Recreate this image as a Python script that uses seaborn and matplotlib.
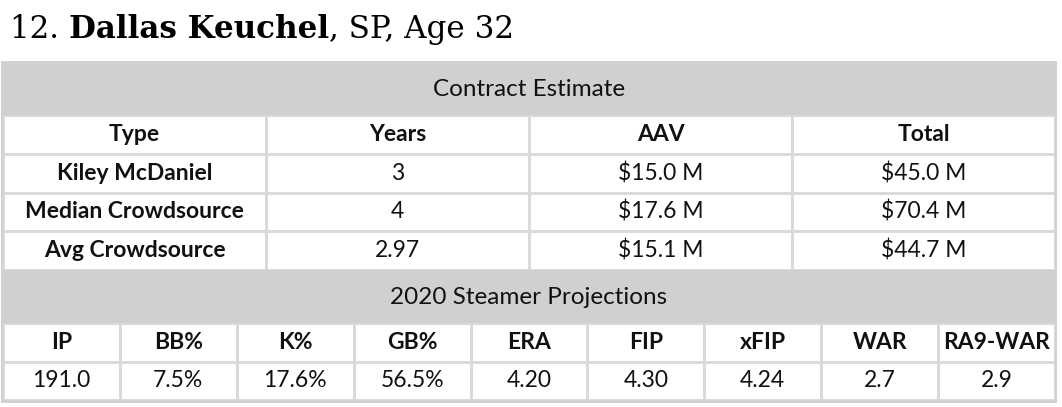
import matplotlib
matplotlib.use("Agg")
import matplotlib.pyplot as plt
import numpy as np
import seaborn as sns
from matplotlib.patches import Rectangle

# Player line
rank = "12."
player = "Dallas Keuchel"
position = "SP"
age = 32

# Contract estimate table
contract_header = ["Type", "Years", "AAV", "Total"]
contract_types = ["Kiley McDaniel", "Median Crowdsource", "Avg Crowdsource"]
contract_years = ["3", "4", "2.97"]
contract_aav = [15.0, 17.6, 15.1]
contract_total = [45.0, 70.4, 44.7]

# Steamer projections table
steamer_header = ["IP", "BB%", "K%", "GB%", "ERA", "FIP", "xFIP", "WAR", "RA9-WAR"]
steamer_values = ["191.0", "7.5%", "17.6%", "56.5%", "4.20", "4.30", "4.24", "2.7", "2.9"]

BAND = "#d0d0d0"
LINE = "#dadada"
TEXT = "#111111"
FS = 16.5
FS_BAND = 17.5

sns.set_theme(style="white")
plt.rcParams['font.family'] = ['Lato', 'DejaVu Sans']

W, H = 1062, 407
fig = plt.figure(figsize=(W / 100, H / 100), dpi=100)


def px_axes(x0, y0, x1, y1):
    return fig.add_axes([x0 / W, 1 - y1 / H, (x1 - x0) / W, (y1 - y0) / H])


bg = fig.add_axes([0, 0, 1, 1])
bg.set_xlim(0, W)
bg.set_ylim(H, 0)
bg.axis('off')
bg.add_patch(Rectangle((1, 61), 1056, 342, color=BAND, lw=0))
bg.text(529, 89, "Contract Estimate", ha='center', va='center', fontsize=FS_BAND, color=TEXT)
bg.text(529, 297, "2020 Steamer Projections", ha='center', va='center', fontsize=FS_BAND, color=TEXT)

# title in pieces: regular / bold / regular
r = fig.canvas.get_renderer()
x = 10
for txt, wt in [(rank + " ", 'normal'), (player, 'bold'), (f", {position}, Age {age}", 'normal')]:
    t = bg.text(x, 38, txt, ha='left', va='baseline', fontsize=22.3, color='black',
                fontweight=wt, family=['DejaVu Serif'])
    x += t.get_window_extent(r).width


def cell_table(ax, labels, bold):
    grid = np.zeros(labels.shape)
    sns.heatmap(grid, ax=ax, cmap=['white'], cbar=False, annot=labels, fmt='',
                linewidths=2, linecolor=LINE, xticklabels=False, yticklabels=False,
                annot_kws=dict(fontsize=FS, color=TEXT))
    for t, b in zip(ax.texts, bold.ravel()):
        t.set_fontweight('bold' if b else 'normal')


contract_labels = np.array(
    [contract_header] +
    [[t, y, f"${a:.1f} M", f"${v:.1f} M"]
     for t, y, a, v in zip(contract_types, contract_years, contract_aav, contract_total)])
contract_bold = np.zeros(contract_labels.shape, dtype=bool)
contract_bold[0, :] = True
contract_bold[:, 0] = True
cell_table(px_axes(3, 115, 1055, 270), contract_labels, contract_bold)

steamer_labels = np.array([steamer_header, steamer_values])
steamer_bold = np.zeros(steamer_labels.shape, dtype=bool)
steamer_bold[0, :] = True
cell_table(px_axes(3, 323, 1055, 400), steamer_labels, steamer_bold)

fig.savefig("out.png", dpi=100)
